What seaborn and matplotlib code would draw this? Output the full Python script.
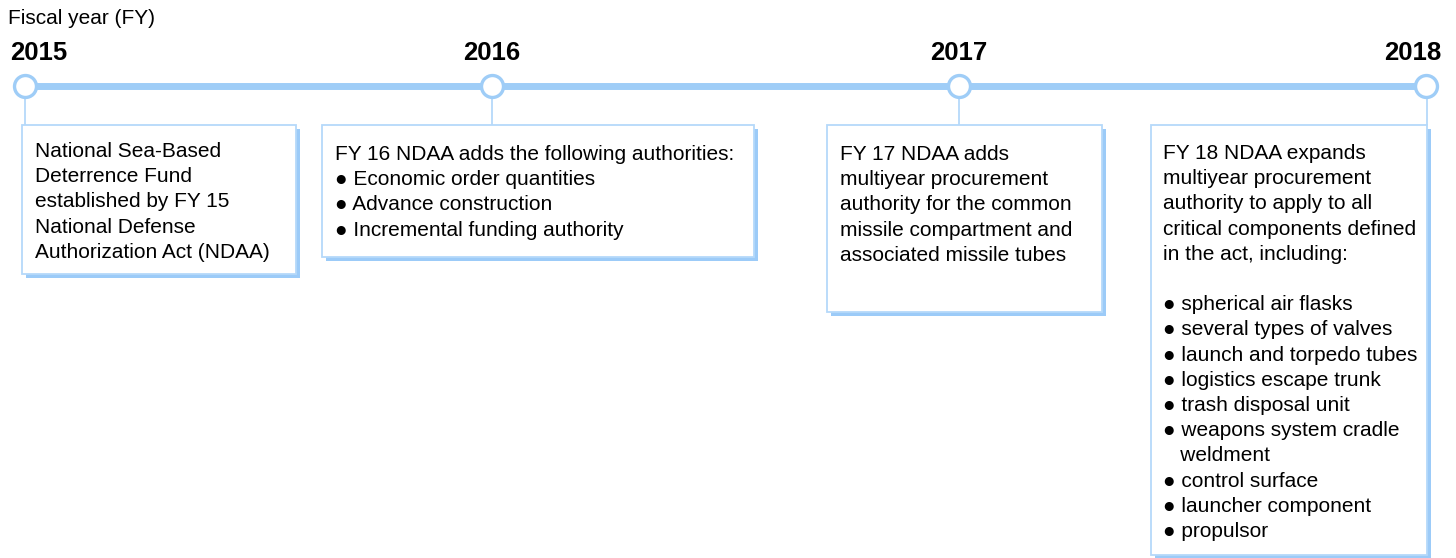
import numpy as np
import pandas as pd
import matplotlib
matplotlib.use("Agg")
import matplotlib.pyplot as plt
from matplotlib.patches import Rectangle
import seaborn as sns

# timeline data
years = [2015, 2016, 2017, 2018]
title = "Fiscal year (FY)"
notes_2015 = ["National Sea-Based", "Deterrence Fund", "established by FY 15",
              "National Defense", "Authorization Act (NDAA)"]
notes_2016 = ["FY 16 NDAA adds the following authorities:",
              "\u25cf Economic order quantities",
              "\u25cf Advance construction",
              "\u25cf Incremental funding authority"]
notes_2017 = ["FY 17 NDAA adds", "multiyear procurement",
              "authority for the common", "missile compartment and",
              "associated missile tubes"]
notes_2018 = ["FY 18 NDAA expands", "multiyear procurement",
              "authority to apply to all", "critical components defined",
              "in the act, including:", "",
              "\u25cf spherical air flasks",
              "\u25cf several types of valves",
              "\u25cf launch and torpedo tubes",
              "\u25cf logistics escape trunk",
              "\u25cf trash disposal unit",
              "\u25cf weapons system cradle",
              "   weldment",
              "\u25cf control surface",
              "\u25cf launcher component",
              "\u25cf propulsor"]
notes = [notes_2015, notes_2016, notes_2017, notes_2018]

sns.set_style("white")
plt.rcParams["font.family"] = ["Liberation Sans", "DejaVu Sans"]

line_col = "#9fcdf7"
edge_col = "#b5d9fa"
shadow_col = "#9ccbf8"

W, H = 1456, 558
fig = plt.figure(figsize=(W / 100, H / 100), dpi=100)
ax = fig.add_axes([0, 0, 1, 1])

# x in years, y in pixels from top
ppy = 467.3
x0 = years[0] - 24.5 / ppy
ax.set_xlim(x0, x0 + W / ppy)
ax.set_ylim(H, 0)
ax.axis("off")

def px(v):
    return x0 + v / ppy

line_y = 86
ax.plot(years, [line_y] * len(years), color=line_col, lw=5.0, solid_capstyle="butt", zorder=1)

# boxes: left, top, right, bottom in pixels
boxes = [(22, 125, 296, 274), (322, 125, 754, 257), (827, 125, 1102, 312), (1151, 125, 1427, 555)]
text_pos = [(35, 157), (335, 160), (840, 160), (1163, 159)]

for yr, (l, t, r, b), (tx, ty), lines in zip(years, boxes, text_pos, notes):
    # connector
    cx = yr if yr != years[-1] else px(r - 0.5)
    ax.plot([cx, cx], [line_y + 10, t], color=edge_col, lw=1.3, zorder=1)
    # shadow
    ax.add_patch(Rectangle((px(l + 4), t + 4), px(r + 4) - px(l + 4), b - t,
                           facecolor=shadow_col, edgecolor="none", zorder=2))
    ax.add_patch(Rectangle((px(l), t), px(r) - px(l), b - t,
                           facecolor="white", edgecolor=edge_col, lw=1.3, zorder=3))
    for i, s in enumerate(lines):
        ax.text(px(tx), ty + i * 25.2, s, fontsize=15, va="baseline", ha="left",
                color="black", zorder=4)

sns.scatterplot(x=years, y=[line_y] * len(years), s=250, color="white",
                edgecolor=line_col, linewidth=2.4, zorder=5, ax=ax, legend=False)

# year labels
aligns = ["left", "center", "center", "right"]
label_x = [px(10), years[1], years[2], px(1441)]
for yr, ha, lx in zip(years, aligns, label_x):
    ax.text(lx, 60, str(yr), fontsize=18.5, fontweight="bold", ha=ha, va="baseline", color="black")

ax.text(px(8), 24, title, fontsize=15, ha="left", va="baseline", color="black")

fig.savefig("out.png", dpi=100)
